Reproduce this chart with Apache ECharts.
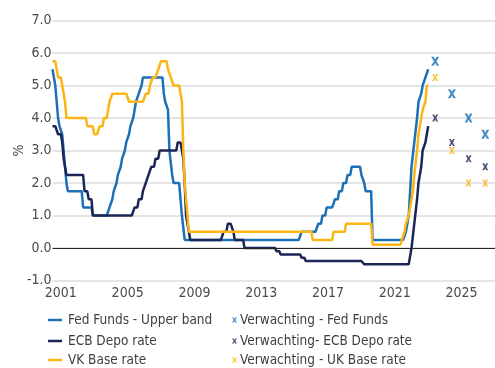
<!DOCTYPE html>
<html>
<head>
<meta charset="utf-8">
<script src="https://cdn.jsdelivr.net/npm/echarts@6/dist/echarts.min.js"></script>
<style>
  html, body { margin: 0; padding: 0; background: #ffffff; }
  #chart { width: 495px; height: 368px; }
</style>
</head>
<body>
<div id="chart"></div>
<script>
// Monthly policy rates (month-end, %), January 2001 through July 2023.
const firstYear = 2001;

const fedFunds = [
  5.5, 5.5, 5.0, 4.5, 4.0, 3.75, 3.75, 3.5, 3.0, 2.5, 2.0, 1.75,          // 2001
  1.75, 1.75, 1.75, 1.75, 1.75, 1.75, 1.75, 1.75, 1.75, 1.75, 1.25, 1.25, // 2002
  1.25, 1.25, 1.25, 1.25, 1.25, 1.0, 1.0, 1.0, 1.0, 1.0, 1.0, 1.0,        // 2003
  1.0, 1.0, 1.0, 1.0, 1.0, 1.25, 1.25, 1.5, 1.75, 1.75, 2.0, 2.25,        // 2004
  2.25, 2.5, 2.75, 2.75, 3.0, 3.25, 3.25, 3.5, 3.75, 3.75, 4.0, 4.25,     // 2005
  4.5, 4.5, 4.75, 4.75, 5.0, 5.25, 5.25, 5.25, 5.25, 5.25, 5.25, 5.25,    // 2006
  5.25, 5.25, 5.25, 5.25, 5.25, 5.25, 5.25, 5.25, 4.75, 4.5, 4.5, 4.25,   // 2007
  3.0, 3.0, 2.25, 2.0, 2.0, 2.0, 2.0, 2.0, 2.0, 1.0, 1.0, 0.25,           // 2008
  0.25, 0.25, 0.25, 0.25, 0.25, 0.25, 0.25, 0.25, 0.25, 0.25, 0.25, 0.25, // 2009
  0.25, 0.25, 0.25, 0.25, 0.25, 0.25, 0.25, 0.25, 0.25, 0.25, 0.25, 0.25, // 2010
  0.25, 0.25, 0.25, 0.25, 0.25, 0.25, 0.25, 0.25, 0.25, 0.25, 0.25, 0.25, // 2011
  0.25, 0.25, 0.25, 0.25, 0.25, 0.25, 0.25, 0.25, 0.25, 0.25, 0.25, 0.25, // 2012
  0.25, 0.25, 0.25, 0.25, 0.25, 0.25, 0.25, 0.25, 0.25, 0.25, 0.25, 0.25, // 2013
  0.25, 0.25, 0.25, 0.25, 0.25, 0.25, 0.25, 0.25, 0.25, 0.25, 0.25, 0.25, // 2014
  0.25, 0.25, 0.25, 0.25, 0.25, 0.25, 0.25, 0.25, 0.25, 0.25, 0.25, 0.5,  // 2015
  0.5, 0.5, 0.5, 0.5, 0.5, 0.5, 0.5, 0.5, 0.5, 0.5, 0.5, 0.75,            // 2016
  0.75, 0.75, 1.0, 1.0, 1.0, 1.25, 1.25, 1.25, 1.25, 1.25, 1.25, 1.5,     // 2017
  1.5, 1.5, 1.75, 1.75, 1.75, 2.0, 2.0, 2.0, 2.25, 2.25, 2.25, 2.5,       // 2018
  2.5, 2.5, 2.5, 2.5, 2.5, 2.5, 2.25, 2.25, 2.0, 1.75, 1.75, 1.75,        // 2019
  1.75, 1.75, 0.25, 0.25, 0.25, 0.25, 0.25, 0.25, 0.25, 0.25, 0.25, 0.25, // 2020
  0.25, 0.25, 0.25, 0.25, 0.25, 0.25, 0.25, 0.25, 0.25, 0.25, 0.25, 0.25, // 2021
  0.25, 0.25, 0.5, 0.5, 1.0, 1.75, 2.5, 2.5, 3.25, 3.25, 4.0, 4.5,        // 2022
  4.5, 4.75, 5.0, 5.0, 5.25, 5.25, 5.5                                    // 2023
];

const ecbDepo = [
  3.75, 3.75, 3.75, 3.75, 3.5, 3.5, 3.5, 3.25, 2.75, 2.75, 2.25, 2.25,     // 2001
  2.25, 2.25, 2.25, 2.25, 2.25, 2.25, 2.25, 2.25, 2.25, 2.25, 2.25, 1.75,  // 2002
  1.75, 1.75, 1.5, 1.5, 1.5, 1.0, 1.0, 1.0, 1.0, 1.0, 1.0, 1.0,            // 2003
  1.0, 1.0, 1.0, 1.0, 1.0, 1.0, 1.0, 1.0, 1.0, 1.0, 1.0, 1.0,              // 2004
  1.0, 1.0, 1.0, 1.0, 1.0, 1.0, 1.0, 1.0, 1.0, 1.0, 1.0, 1.25,             // 2005
  1.25, 1.25, 1.5, 1.5, 1.5, 1.75, 1.75, 2.0, 2.0, 2.25, 2.25, 2.5,        // 2006
  2.5, 2.5, 2.75, 2.75, 2.75, 3.0, 3.0, 3.0, 3.0, 3.0, 3.0, 3.0,           // 2007
  3.0, 3.0, 3.0, 3.0, 3.0, 3.0, 3.25, 3.25, 3.25, 3.25, 2.75, 2.0,         // 2008
  1.0, 1.0, 0.5, 0.25, 0.25, 0.25, 0.25, 0.25, 0.25, 0.25, 0.25, 0.25,     // 2009
  0.25, 0.25, 0.25, 0.25, 0.25, 0.25, 0.25, 0.25, 0.25, 0.25, 0.25, 0.25,  // 2010
  0.25, 0.25, 0.25, 0.5, 0.5, 0.5, 0.75, 0.75, 0.75, 0.75, 0.5, 0.25,      // 2011
  0.25, 0.25, 0.25, 0.25, 0.25, 0.25, 0.0, 0.0, 0.0, 0.0, 0.0, 0.0,        // 2012
  0.0, 0.0, 0.0, 0.0, 0.0, 0.0, 0.0, 0.0, 0.0, 0.0, 0.0, 0.0,              // 2013
  0.0, 0.0, 0.0, 0.0, 0.0, -0.1, -0.1, -0.1, -0.2, -0.2, -0.2, -0.2,       // 2014
  -0.2, -0.2, -0.2, -0.2, -0.2, -0.2, -0.2, -0.2, -0.2, -0.2, -0.2, -0.3,  // 2015
  -0.3, -0.3, -0.4, -0.4, -0.4, -0.4, -0.4, -0.4, -0.4, -0.4, -0.4, -0.4,  // 2016
  -0.4, -0.4, -0.4, -0.4, -0.4, -0.4, -0.4, -0.4, -0.4, -0.4, -0.4, -0.4,  // 2017
  -0.4, -0.4, -0.4, -0.4, -0.4, -0.4, -0.4, -0.4, -0.4, -0.4, -0.4, -0.4,  // 2018
  -0.4, -0.4, -0.4, -0.4, -0.4, -0.4, -0.4, -0.4, -0.5, -0.5, -0.5, -0.5,  // 2019
  -0.5, -0.5, -0.5, -0.5, -0.5, -0.5, -0.5, -0.5, -0.5, -0.5, -0.5, -0.5,  // 2020
  -0.5, -0.5, -0.5, -0.5, -0.5, -0.5, -0.5, -0.5, -0.5, -0.5, -0.5, -0.5,  // 2021
  -0.5, -0.5, -0.5, -0.5, -0.5, -0.5, 0.0, 0.0, 0.75, 0.75, 1.5, 2.0,      // 2022
  2.0, 2.5, 3.0, 3.0, 3.25, 3.5, 3.75                                      // 2023
];

const ukBase = [
  5.75, 5.75, 5.75, 5.5, 5.25, 5.25, 5.25, 5.0, 4.75, 4.5, 4.0, 4.0,       // 2001
  4.0, 4.0, 4.0, 4.0, 4.0, 4.0, 4.0, 4.0, 4.0, 4.0, 4.0, 4.0,              // 2002
  4.0, 3.75, 3.75, 3.75, 3.75, 3.75, 3.5, 3.5, 3.5, 3.5, 3.75, 3.75,       // 2003
  3.75, 4.0, 4.0, 4.0, 4.25, 4.5, 4.5, 4.75, 4.75, 4.75, 4.75, 4.75,       // 2004
  4.75, 4.75, 4.75, 4.75, 4.75, 4.75, 4.75, 4.5, 4.5, 4.5, 4.5, 4.5,       // 2005
  4.5, 4.5, 4.5, 4.5, 4.5, 4.5, 4.5, 4.75, 4.75, 4.75, 5.0, 5.0,           // 2006
  5.25, 5.25, 5.25, 5.25, 5.5, 5.5, 5.75, 5.75, 5.75, 5.75, 5.75, 5.5,     // 2007
  5.5, 5.25, 5.25, 5.0, 5.0, 5.0, 5.0, 5.0, 5.0, 4.5, 3.0, 2.0,            // 2008
  1.5, 1.0, 0.5, 0.5, 0.5, 0.5, 0.5, 0.5, 0.5, 0.5, 0.5, 0.5,              // 2009
  0.5, 0.5, 0.5, 0.5, 0.5, 0.5, 0.5, 0.5, 0.5, 0.5, 0.5, 0.5,              // 2010
  0.5, 0.5, 0.5, 0.5, 0.5, 0.5, 0.5, 0.5, 0.5, 0.5, 0.5, 0.5,              // 2011
  0.5, 0.5, 0.5, 0.5, 0.5, 0.5, 0.5, 0.5, 0.5, 0.5, 0.5, 0.5,              // 2012
  0.5, 0.5, 0.5, 0.5, 0.5, 0.5, 0.5, 0.5, 0.5, 0.5, 0.5, 0.5,              // 2013
  0.5, 0.5, 0.5, 0.5, 0.5, 0.5, 0.5, 0.5, 0.5, 0.5, 0.5, 0.5,              // 2014
  0.5, 0.5, 0.5, 0.5, 0.5, 0.5, 0.5, 0.5, 0.5, 0.5, 0.5, 0.5,              // 2015
  0.5, 0.5, 0.5, 0.5, 0.5, 0.5, 0.5, 0.25, 0.25, 0.25, 0.25, 0.25,         // 2016
  0.25, 0.25, 0.25, 0.25, 0.25, 0.25, 0.25, 0.25, 0.25, 0.25, 0.5, 0.5,    // 2017
  0.5, 0.5, 0.5, 0.5, 0.5, 0.5, 0.5, 0.75, 0.75, 0.75, 0.75, 0.75,         // 2018
  0.75, 0.75, 0.75, 0.75, 0.75, 0.75, 0.75, 0.75, 0.75, 0.75, 0.75, 0.75,  // 2019
  0.75, 0.75, 0.1, 0.1, 0.1, 0.1, 0.1, 0.1, 0.1, 0.1, 0.1, 0.1,            // 2020
  0.1, 0.1, 0.1, 0.1, 0.1, 0.1, 0.1, 0.1, 0.1, 0.1, 0.1, 0.25,             // 2021
  0.25, 0.5, 0.75, 0.75, 1.0, 1.25, 1.25, 1.75, 2.25, 2.25, 3.0, 3.5,      // 2022
  3.5, 4.0, 4.25, 4.25, 4.5, 5.0, 5.0                                      // 2023
];

// Year-end expectations
const forecastYears = [2023, 2024, 2025, 2026];
const fedForecast = [5.75, 4.75, 4.0, 3.5];
const ecbForecast = [4.0, 3.25, 2.75, 2.5];
const ukForecast = [5.25, 3.0, 2.0, 2.0];

// Axis labels
const xTickYears = [2001, 2005, 2009, 2013, 2017, 2021, 2025];
const yTicks = [-1, 0, 1, 2, 3, 4, 5, 6, 7];

const seriesNames = ['Fed Funds - Upper band', 'ECB Depo rate', 'VK Base rate'];
const forecastNames = ['Verwachting - Fed Funds', 'Verwachting- ECB Depo rate', 'Verwachting - UK Base rate'];

const BLUE = '#1c70b7';
const NAVY = '#1b2656';
const GOLD = '#fbb515';
const TEXT = '#4a4a4a';
const FONT = "'DejaVu Sans Condensed', 'Liberation Sans Narrow', 'Liberation Sans', sans-serif";

// monthly array -> [decimal year, value]
function monthly(values) {
  return values.map((v, i) => [firstYear + i / 12, v]);
}
// expectations sit at December of each year
function yearEnd(values) {
  return values.map((v, i) => [forecastYears[i] + 11 / 12, v]);
}

// bold "x" marker
const crossIcon = 'path://M0,0 L3.2,0 L5,3 L6.8,0 L10,0 L6.7,5 L10,10 L6.8,10 L5,7 L3.2,10 L0,10 L3.3,5 Z';

// one legend entry per row, two columns
const rowTops = [312, 333, 352];
const legendText = { color: '#3f3f3f', fontSize: 13.5, fontFamily: FONT, lineHeight: 16 };
const legends = [];
seriesNames.forEach((name, i) => legends.push({
  data: [name], left: 48, top: rowTops[i], icon: 'rect',
  itemWidth: 14, itemHeight: 2.5, selectedMode: false, padding: 0,
  textStyle: Object.assign({ padding: [0, 0, 0, 1] }, legendText)
}));
forecastNames.forEach((name, i) => legends.push({
  data: [name], left: 232, top: rowTops[i], icon: crossIcon,
  itemWidth: 5, itemHeight: 7, selectedMode: false, padding: 0,
  textStyle: Object.assign({ padding: [0, 0, 0, -2] }, legendText)
}));

const chart = echarts.init(document.getElementById('chart'), null, { renderer: 'canvas' });

const lineBase = {
  type: 'line',
  showSymbol: false,
  symbol: 'none',
  lineStyle: { width: 2.5 },
  emphasis: { disabled: true },
  silent: true
};

chart.setOption({
  animation: false,
  backgroundColor: '#ffffff',
  textStyle: { fontFamily: FONT },
  grid: { left: 52.5, right: 0, top: 20.5, bottom: 87.5, containLabel: false },
  xAxis: {
    type: 'value',
    min: firstYear,
    max: 2027.5,
    axisLine: { show: false },
    axisTick: { show: false },
    splitLine: { show: false },
    axisLabel: {
      customValues: xTickYears.map(y => y + 0.5),
      formatter: v => String(Math.floor(v)),
      color: TEXT,
      fontSize: 14,
      fontFamily: FONT,
      margin: 6
    }
  },
  yAxis: {
    type: 'value',
    min: yTicks[0],
    max: yTicks[yTicks.length - 1],
    interval: 1,
    name: '%',
    nameLocation: 'middle',
    nameRotate: 90,
    nameGap: 26,
    nameMoveOverlap: false,
    nameTextStyle: { color: TEXT, fontSize: 14, fontFamily: FONT },
    axisLine: { show: false },
    axisTick: { show: false },
    axisLabel: {
      formatter: v => v.toFixed(1),
      color: TEXT,
      fontSize: 14,
      fontFamily: FONT,
      margin: 1
    },
    splitLine: { show: true, lineStyle: { color: '#dcdcdc', width: 1.5 } }
  },
  legend: legends,
  series: [
    Object.assign({}, lineBase, {
      name: seriesNames[0],
      color: BLUE,
      data: monthly(fedFunds),
      markLine: {
        silent: true,
        symbol: 'none',
        label: { show: false },
        lineStyle: { color: '#262626', width: 1, type: 'solid' },
        data: [{ yAxis: 0 }]
      }
    }),
    Object.assign({}, lineBase, { name: seriesNames[1], color: NAVY, data: monthly(ecbDepo) }),
    Object.assign({}, lineBase, { name: seriesNames[2], color: GOLD, data: monthly(ukBase) }),
    {
      type: 'scatter', name: forecastNames[0], color: BLUE, silent: true,
      symbol: crossIcon, symbolSize: [8, 9], data: yearEnd(fedForecast)
    },
    {
      type: 'scatter', name: forecastNames[1], color: NAVY, silent: true,
      symbol: crossIcon, symbolSize: [6, 7], data: yearEnd(ecbForecast)
    },
    {
      type: 'scatter', name: forecastNames[2], color: GOLD, silent: true,
      symbol: crossIcon, symbolSize: [6, 7], data: yearEnd(ukForecast)
    }
  ]
});
</script>
</body>
</html>
